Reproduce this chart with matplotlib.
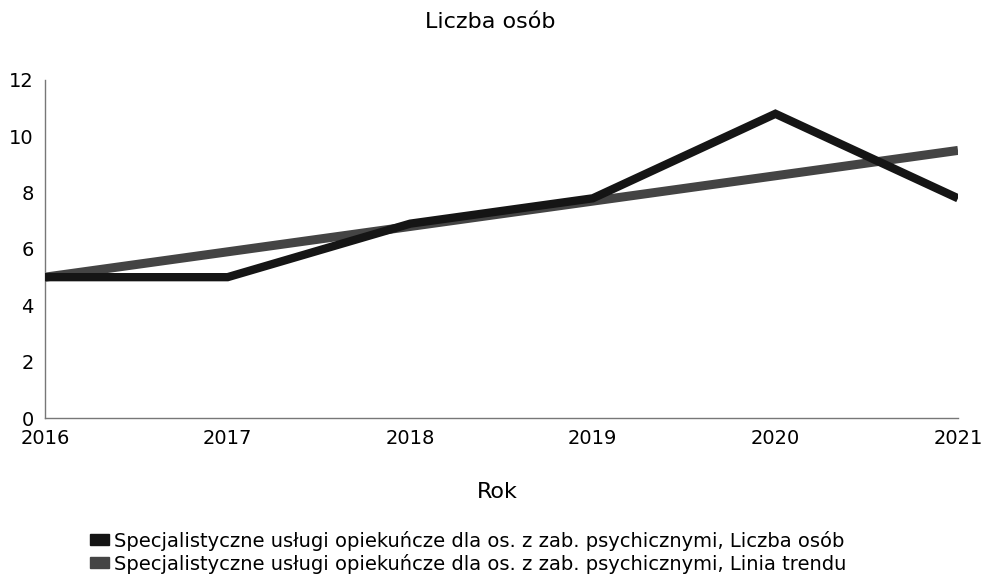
import matplotlib
matplotlib.use("Agg")
import matplotlib.pyplot as plt
from matplotlib.patches import Patch

plt.rcParams['font.family'] = ['DejaVu Sans']

# data
lata = [2016, 2017, 2018, 2019, 2020, 2021]
liczba_osob = [5.0, 5.0, 6.9, 7.8, 10.8, 7.8]
linia_trendu = [5.0, 5.9, 6.8, 7.7, 8.6, 9.5]
y_ticks = [0, 2, 4, 6, 8, 10, 12]
seria_1 = 'Specjalistyczne usługi opiekuńcze dla os. z zab. psychicznymi, Liczba osób'
seria_2 = 'Specjalistyczne usługi opiekuńcze dla os. z zab. psychicznymi, Linia trendu'

kolor_1 = '#151515'
kolor_2 = '#444444'

fig = plt.figure(figsize=(9.81, 5.8), dpi=100)
ax = fig.add_axes([45/981, 1-418/580, 913/981, 338/580])

ax.plot(lata, linia_trendu, color=kolor_2, linewidth=6.5, solid_capstyle='butt', zorder=2)
ax.plot(lata, liczba_osob, color=kolor_1, linewidth=6, solid_capstyle='butt',
        solid_joinstyle='miter', zorder=3)

ax.set_xlim(2016, 2021)
ax.set_ylim(0, 12)
ax.set_xticks(lata)
ax.set_xticklabels([str(r) for r in lata], fontsize=14)
ax.set_yticks(y_ticks)
ax.set_yticklabels([str(v) for v in y_ticks], fontsize=14)
ax.tick_params(length=0, pad=8)
ax.tick_params(axis='y', pad=8)
for s in ['top', 'right']:
    ax.spines[s].set_visible(False)
for s in ['left', 'bottom']:
    ax.spines[s].set_color('#777777')
    ax.spines[s].set_linewidth(1)

fig.text(490/981, 1-22/580, 'Liczba osób', ha='center', va='center', fontsize=16)
fig.text(497/981, 1-492/580, 'Rok', ha='center', va='center', fontsize=16)

uchwyty = [Patch(facecolor=kolor_1, edgecolor=kolor_1), Patch(facecolor=kolor_2, edgecolor=kolor_2)]
fig.legend(uchwyty, [seria_1, seria_2], loc='upper left', bbox_to_anchor=(80/981, 1-521/580),
           frameon=False, fontsize=14, handlelength=1.0, handleheight=0.5,
           handletextpad=0.25, labelspacing=0.15, borderpad=0)

fig.savefig('out.png', dpi=100)
